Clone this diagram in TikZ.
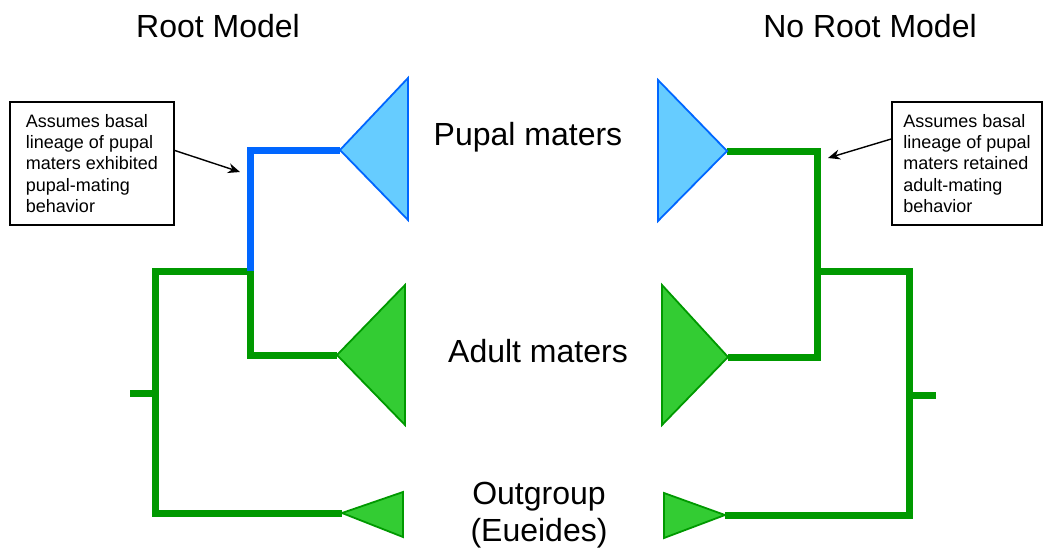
\documentclass[tikz,border=0pt]{standalone}
\usepackage{fontspec}
\setmainfont{Liberation Sans}
\usetikzlibrary{arrows.meta}
\definecolor{lineblue}{HTML}{0066FF}
\definecolor{fillblue}{HTML}{66CCFF}
\definecolor{linegreen}{HTML}{009900}
\definecolor{fillgreen}{HTML}{33CC33}
\tikzstyle{title} = [font=\fontsize{32}{37}\selectfont, inner sep=0pt, anchor=base]
\tikzstyle{clade} = [font=\fontsize{32}{37}\selectfont, inner sep=0pt, align=center]
\tikzstyle{note} = [rectangle, draw=black, line width=1.2pt, align=left, inner sep=10pt, minimum height=123, font=\fontsize{18}{21.3}\selectfont]
\tikzstyle{arrow} = [line width=1.4pt, -{Stealth[length=12pt, width=10pt]}]
\tikzstyle{blueedge} = [draw=lineblue, line width=7pt]
\tikzstyle{greenedge} = [draw=linegreen, line width=7pt]
\tikzstyle{bluetri} = [draw=lineblue, fill=fillblue, line width=1.8pt]
\tikzstyle{greentri} = [draw=linegreen, fill=fillgreen, line width=1.8pt]

\begin{document}
\begin{tikzpicture}[x=1pt, y=-1pt]
    \useasboundingbox (0,0) rectangle (1050,552);

    % headings and clade names
    \node (rootm) [title] at (218,37) {Root Model};
    \node (norootm) [title] at (870,37) {No Root Model};
    \node (pupal) [clade, anchor=base] at (528,145) {Pupal maters};
    \node (adult) [clade, anchor=base] at (538,362) {Adult maters};
    \node (outgr) [clade, anchor=north] at (539,482) {Outgroup\\(Eueides)};

    % left tree (root model)
    \coordinate (Lpup) at (340,150);
    \coordinate (Ladu) at (337,355);
    \coordinate (Lout) at (342,513);
    \coordinate (Lin) at (250,271);
    \coordinate (Lbase) at (155,393);
    \coordinate (Lstem) at (130,393);
    \draw[greenedge] (Lin) |- (Ladu);
    \draw[greenedge] (Lin) -| (Lbase) |- (Lout);
    \draw[greenedge] (Lstem) -- (Lbase);
    \draw[blueedge] (Lin) |- (Lpup);
    \filldraw[bluetri] (Lpup) -- (408,78) -- (408,220) -- cycle;
    \filldraw[greentri] (Ladu) -- (405,285) -- (405,425) -- cycle;
    \filldraw[greentri] (Lout) -- (403,492) -- (403,537) -- cycle;

    % right tree (no root model)
    \coordinate (Rpup) at (727,151);
    \coordinate (Radu) at (728,357);
    \coordinate (Rout) at (725,515);
    \coordinate (Rin) at (817,271);
    \coordinate (Rbase) at (909,395);
    \coordinate (Rstem) at (936,395);
    \draw[greenedge] (Rpup) -| (Rin) |- (Radu);
    \draw[greenedge] (Rin) -| (Rbase) |- (Rout);
    \draw[greenedge] (Rbase) -- (Rstem);
    \filldraw[bluetri] (Rpup) -- (658,80) -- (658,221) -- cycle;
    \filldraw[greentri] (Radu) -- (662,285) -- (662,425) -- cycle;
    \filldraw[greentri] (Rout) -- (664,493) -- (664,538) -- cycle;

    % notes
    \node (lnote) [note, minimum width=164] at (92,163.5) {Assumes basal\\lineage of pupal\\maters exhibited\\pupal-mating\\behavior};
    \node (rnote) [note, minimum width=150] at (967,163.5) {Assumes basal\\lineage of pupal\\maters retained\\adult-mating\\behavior};
    \coordinate (lpoint) at (240,172);
    \coordinate (rpoint) at (828,158);
    \draw[arrow] (lnote.9) -- (lpoint);
    \draw[arrow] (rnote.162) -- (rpoint);
\end{tikzpicture}
\end{document}
